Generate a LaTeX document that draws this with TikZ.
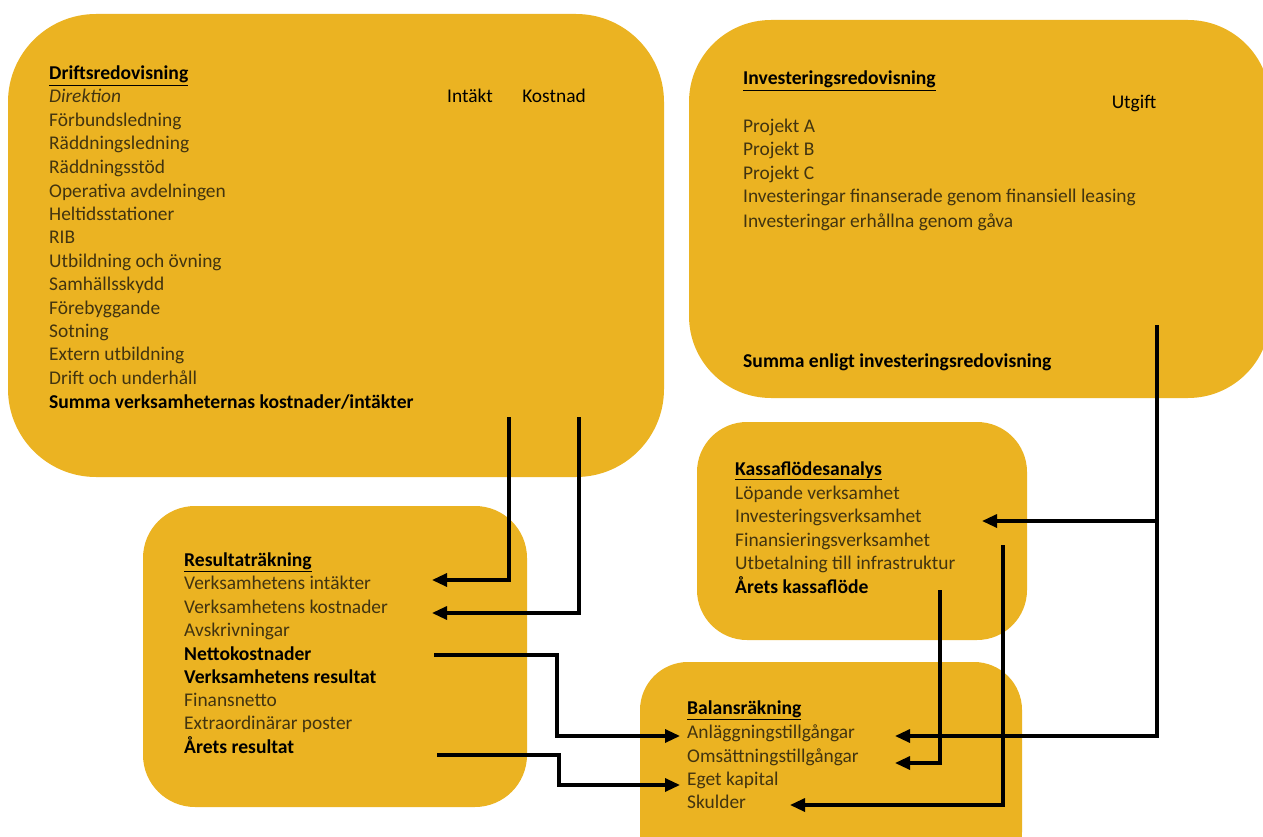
\documentclass[tikz,border=0pt]{standalone}
\usepackage{fontspec}
\setmainfont{Carlito}
\usetikzlibrary{arrows.meta}
\definecolor{boxyellow}{RGB}{235,179,34}
\definecolor{itemtext}{RGB}{66,52,16}
\begin{document}
\begin{tikzpicture}[x=1pt,y=-1pt,
  panel/.style={fill=boxyellow, draw=none},
  item/.style={anchor=base west, inner sep=0pt, font=\fontsize{19.4}{21}\selectfont, text=itemtext},
  label/.style={item, anchor=base, text=black},
  strong/.style={item, text=black, font=\fontsize{19.6}{21}\selectfont\bfseries},
  head/.style={strong},
  link/.style={line width=3.2pt, -{Triangle[length=15pt,width=13pt]}},
]
\useasboundingbox (0,0) rectangle (1263,837);
% panels
\fill[panel, rounded corners=88pt] (8,14) rectangle (664,477);
\fill[panel, rounded corners=82pt] (689,20) rectangle (1270,398);
\fill[panel, rounded corners=52pt] (143,506) rectangle (527,807);
\fill[panel, rounded corners=50pt] (697,422) rectangle (1027,640);
\fill[panel, rounded corners=48pt] (640,662) rectangle (1022,880);

% Driftsredovisning
\node[head] (drTitle) at (49,80) {\underline{Driftsredovisning}};
\node[item, font=\fontsize{19.4}{21}\selectfont\itshape] (d1) at (49,103) {Direktion};
\node[label] (intakt) at (470,103) {Intäkt};
\node[label] (kostnad) at (554,103) {Kostnad};
\node[item] (d2) at (49,127) {Förbundsledning};
\node[item] (d3) at (49,150) {Räddningsledning};
\node[item] (d4) at (49,174) {Räddningsstöd};
\node[item] (d5) at (49,197) {Operativa avdelningen};
\node[item] (d6) at (49,220) {Heltidsstationer};
\node[item] (d7) at (49,243) {RIB};
\node[item] (d8) at (49,267) {Utbildning och övning};
\node[item] (d9) at (49,290) {Samhällsskydd};
\node[item] (d10) at (49,314) {Förebyggande};
\node[item] (d11) at (49,337) {Sotning};
\node[item] (d12) at (49,360) {Extern utbildning};
\node[item] (d13) at (49,384) {Drift och underhåll};
\node[strong] (dSum) at (49,408) {Summa verksamheternas kostnader/intäkter};

% Investeringsredovisning
\node[head] (inTitle) at (743,85) {\underline{Investeringsredovisning}};
\node[label] (utgift) at (1134,109) {Utgift};
\node[item] (i1) at (743,133) {Projekt A};
\node[item] (i2) at (743,156) {Projekt B};
\node[item] (i3) at (743,180) {Projekt C};
\node[item] (i4) at (743,203) {Investeringar finanserade genom finansiell leasing};
\node[item] (i5) at (743,227) {Investeringar erhållna genom gåva};
\node[strong] (iSum) at (743,367) {Summa enligt investeringsredovisning};

% Resultaträkning
\node[head] (rTitle) at (184,566) {\underline{Resultaträkning}};
\node[item] (r1) at (184,589) {Verksamhetens intäkter};
\node[item] (r2) at (184,613) {Verksamhetens kostnader};
\node[item] (r3) at (184,636) {Avskrivningar};
\node[strong] (r4) at (184,660) {Nettokostnader};
\node[strong] (r5) at (184,683) {Verksamhetens resultat};
\node[item] (r6) at (184,706) {Finansnetto};
\node[item] (r7) at (184,729) {Extraordinärar poster};
\node[strong] (r8) at (184,753) {Årets resultat};

% Kassaflödesanalys
\node[head] (kTitle) at (735,475) {\underline{Kassaflödesanalys}};
\node[item] (k1) at (735,499) {Löpande verksamhet};
\node[item] (k2) at (735,522) {Investeringsverksamhet};
\node[item] (k3) at (735,546) {Finansieringsverksamhet};
\node[item] (k4) at (735,569) {Utbetalning till infrastruktur};
\node[strong] (k5) at (735,593) {Årets kassaflöde};

% Balansräkning
\node[head] (bTitle) at (687,714) {\underline{Balansräkning}};
\node[item] (b1) at (687,738) {Anläggningstillgångar};
\node[item] (b2) at (687,762) {Omsättningstillgångar};
\node[item] (b3) at (687,785) {Eget kapital};
\node[item] (b4) at (687,808) {Skulder};

% connector end points
\coordinate (intStart) at (509,417);
\coordinate (kosStart) at (579,417);
\coordinate (r1In) at (432,580);
\coordinate (r2In) at (432,613);
\coordinate (nkStart) at (434,655);
\coordinate (arStart) at (437,755);
\coordinate (b1InL) at (680,736);
\coordinate (b3InL) at (680,785);
\coordinate (invStart) at (1157,325);
\coordinate (k2In) at (982,521);
\coordinate (b1InR) at (895,736);
\coordinate (kfStart) at (940,590);
\coordinate (b2InR) at (895,763);
\coordinate (finStart) at (1003,545);
\coordinate (b4InR) at (790,805);

\draw[link] (intStart) |- (r1In);
\draw[link] (kosStart) |- (r2In);
\draw[link] (nkStart) -- ++(123,0) |- (b1InL);
\draw[link] (arStart) -- ++(122,0) |- (b3InL);
\draw[link] (invStart) |- (b1InR);
\draw[link] (invStart |- k2In) -- (k2In);
\draw[link] (kfStart) |- (b2InR);
\draw[link] (finStart) |- (b4InR);
\end{tikzpicture}
\end{document}
